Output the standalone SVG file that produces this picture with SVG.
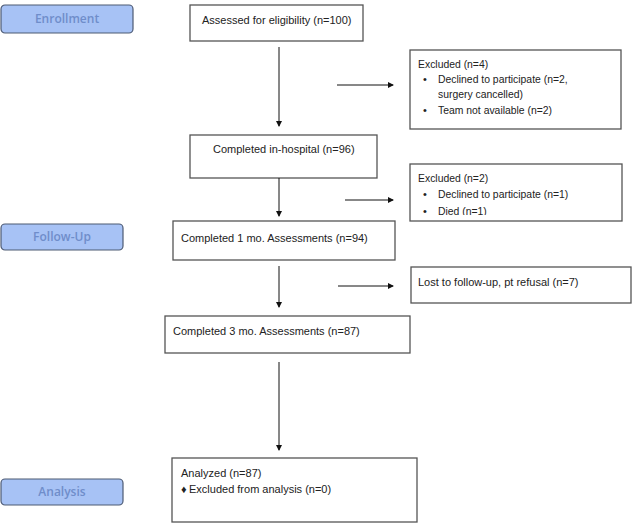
<svg xmlns="http://www.w3.org/2000/svg" width="634" height="529" viewBox="0 0 634 529">
<style>
.box{fill:#fff;stroke:#555;stroke-width:1.3}
.side{fill:#a7c2f5;stroke:#4d5a73;stroke-width:1.2}
.sl{font-family:"Open Sans","Liberation Sans",sans-serif;font-size:12px;font-weight:600;fill:#6f8dca;text-anchor:middle}
.t{font-family:"Liberation Sans",Arial,sans-serif;font-size:11px;fill:#222}
.s{font-size:10.4px}
.c{stroke:#111;stroke-width:1;fill:none;marker-end:url(#ah)}
</style>
<defs>
<marker id="ah" markerWidth="6" markerHeight="6" refX="5" refY="3" orient="auto" markerUnits="userSpaceOnUse">
<path d="M0,0 L6,3 L0,6 Z" fill="#111"/>
</marker>
<clipPath id="clipDied"><rect x="410" y="164" width="212" height="51"/></clipPath>
</defs>
<g id="enrollment"><rect class="side" x="1" y="5" width="132" height="28" rx="4"/><text class="sl" x="67" y="23">Enrollment</text></g>
<g id="followup"><rect class="side" x="1" y="224" width="122" height="26" rx="4"/><text class="sl" x="62" y="241">Follow-Up</text></g>
<g id="analysis"><rect class="side" x="1" y="479" width="122" height="26" rx="4"/><text class="sl" x="62" y="496">Analysis</text></g>
<g id="assessed"><rect class="box" x="190" y="5" width="173" height="36"/><text class="t" x="202" y="24">Assessed for eligibility (n=100)</text></g>
<g id="excluded1"><rect class="box" x="410" y="50" width="211" height="79"/>
<text class="t s" x="418" y="68">Excluded (n=4)</text>
<text class="t" x="423" y="83">•</text><text class="t s" x="438" y="83">Declined to participate (n=2,</text>
<text class="t s" x="438" y="98">surgery cancelled)</text>
<text class="t" x="423" y="114">•</text><text class="t s" x="438" y="114">Team not available (n=2)</text></g>
<g id="inhospital"><rect class="box" x="190" y="135" width="187" height="43"/><text class="t" x="213" y="153">Completed in-hospital (n=96)</text></g>
<g id="excluded2"><rect class="box" x="410" y="164" width="212" height="57"/>
<text class="t s" x="418" y="182">Excluded (n=2)</text>
<text class="t" x="423" y="198">•</text><text class="t s" x="438" y="198">Declined to participate (n=1)</text>
<g clip-path="url(#clipDied)"><text class="t" x="423" y="215">•</text><text class="t s" x="438" y="215">Died (n=1)</text></g></g>
<g id="onemonth"><rect class="box" x="173" y="221" width="222" height="39"/><text class="t" x="181" y="242">Completed 1 mo. Assessments (n=94)</text></g>
<g id="lost"><rect class="box" x="411" y="267" width="220" height="36"/><text class="t" x="418" y="286">Lost to follow-up, pt refusal (n=7)</text></g>
<g id="threemonth"><rect class="box" x="165" y="316" width="245" height="37"/><text class="t" x="173" y="335">Completed 3 mo. Assessments (n=87)</text></g>
<g id="analyzed"><rect class="box" x="172" y="458" width="245" height="64"/>
<text class="t" x="181" y="477">Analyzed (n=87)</text>
<text class="t" x="181" y="493" font-size="7">♦</text><text class="t" x="189" y="493">Excluded from analysis (n=0)</text></g>
<g id="connectors">
<line class="c" x1="279" y1="47" x2="279" y2="126"/>
<line class="c" x1="279" y1="178" x2="279" y2="216"/>
<line class="c" x1="279" y1="266" x2="279" y2="307"/>
<line class="c" x1="279" y1="362" x2="279" y2="450"/>
<line class="c" x1="337" y1="85" x2="393" y2="85"/>
<line class="c" x1="345" y1="200" x2="393" y2="200"/>
<line class="c" x1="338" y1="286" x2="393" y2="286"/>
</g>
</svg>
